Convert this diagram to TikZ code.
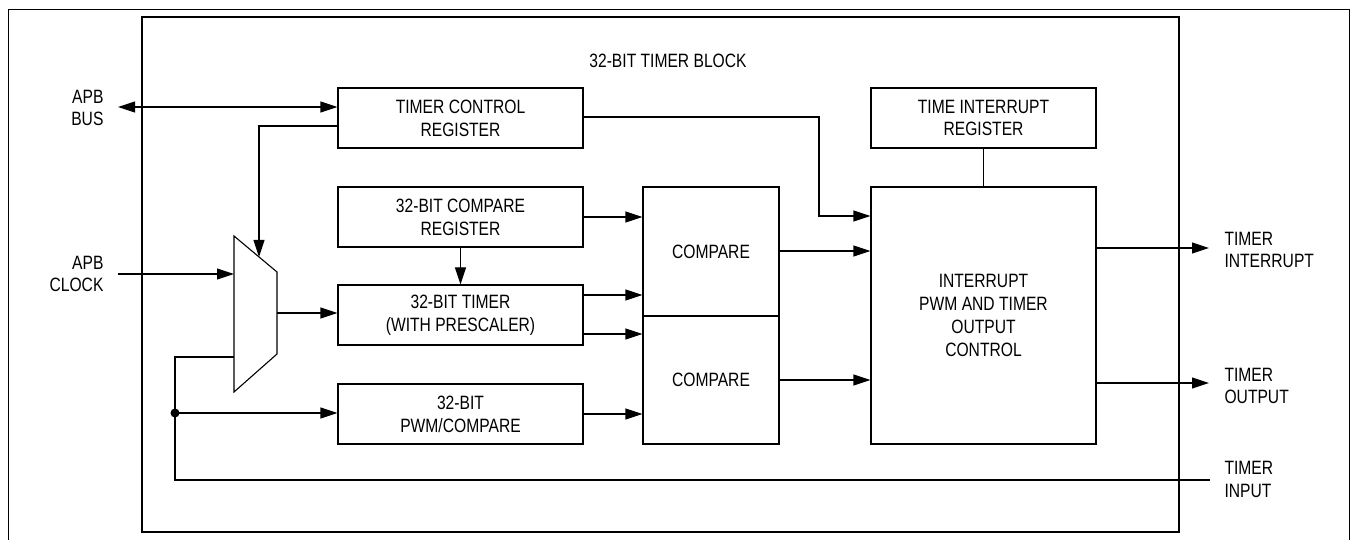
\documentclass[tikz,border=0pt]{standalone}
\usepackage{fontspec}
\setmainfont{Liberation Sans}[FakeStretch=0.81]
\usetikzlibrary{arrows.meta}
\begin{document}
\begin{tikzpicture}[x=1pt,y=-1pt,line width=1.1pt,
  every node/.style={font=\fontsize{19.3}{22.8}\selectfont},
  blk/.style={draw,rectangle,inner sep=0pt,align=center},
  lbl/.style={inner sep=0pt,align=left},
  arr/.style={-{Triangle[length=17pt,width=11pt]}},
  darr/.style={{Triangle[length=17pt,width=11pt]}-{Triangle[length=17pt,width=11pt]}}]
\useasboundingbox (0,0) rectangle (1353,540);
% frames
\draw[line width=1pt] (8,540) -- (8,10) -- (1349,10) -- (1349,540);
\draw[line width=1.1pt] (142,17) rectangle (1179,532);
\node (title) at (668,61) {32-BIT TIMER BLOCK};
% blocks
\node[blk,minimum width=245pt,minimum height=60pt] (tcr) at (460.5,118) {TIMER CONTROL\\REGISTER};
\node[blk,minimum width=245pt,minimum height=60pt] (cmpreg) at (460.5,217) {32-BIT COMPARE\\REGISTER};
\node[blk,minimum width=245pt,minimum height=60pt] (tmr) at (460.5,315) {32-BIT TIMER\\(WITH PRESCALER)};
\node[blk,minimum width=245pt,minimum height=60pt] (pwm) at (460.5,414) {32-BIT\\PWM/COMPARE};
\node[blk,minimum width=136pt,minimum height=129pt] (cmpA) at (711,251.5) {COMPARE};
\node[blk,minimum width=136pt,minimum height=128pt] (cmpB) at (711,380) {COMPARE};
\node[blk,minimum width=225pt,minimum height=257pt] (ictl) at (983.5,315.5) {INTERRUPT\\PWM AND TIMER\\OUTPUT\\CONTROL};
\node[blk,minimum width=225pt,minimum height=60pt] (tir) at (983.5,118) {TIME INTERRUPT\\REGISTER};
% mux
\draw (234,236) -- (277,272) -- (277,354) -- (234,392) -- cycle;
\coordinate (muxin) at (234,274);
\coordinate (muxout) at (277,313);
\coordinate (muxsel) at (234,357);
\coordinate (muxtop) at (259,257);
% external labels
\node[lbl,align=right,anchor=east] (apbbus) at (104,108) {APB\\BUS};
\node[lbl,align=right,anchor=east] (apbclk) at (104,274) {APB\\CLOCK};
\node[lbl,anchor=west] (tint) at (1224,250) {TIMER\\INTERRUPT};
\node[lbl,anchor=west] (tout) at (1224,386) {TIMER\\OUTPUT};
\node[lbl,anchor=west] (tin) at (1224,479.5) {TIMER\\INPUT};
\coordinate (busend) at (118,107);
\coordinate (clkend) at (118,274);
\coordinate (tintend) at (1209,248);
\coordinate (toutend) at (1209,383);
\coordinate (tinend) at (1210,480);
\coordinate (dot) at (175,413);
\coordinate (ctrlbend) at (819,216);
% connectors
\draw[darr] (busend) -- ([yshift=11pt]tcr.west);
\draw[arr] ([yshift=-8pt]tcr.west) -| (muxtop);
\draw[arr] (clkend) -- (muxin);
\draw[arr] (muxout) -- (muxout -| tmr.west);
\draw[arr] (cmpreg.south) -- (tmr.north);
\draw[arr] (cmpreg.east) -- (cmpreg.east -| cmpA.west);
\draw[arr] ([yshift=20pt]tmr.east) -- ([yshift=20pt]tmr.east -| cmpA.west);
\draw[arr] ([yshift=-19pt]tmr.east) -- ([yshift=-19pt]tmr.east -| cmpB.west);
\draw[arr] (pwm.east) -- (pwm.east -| cmpB.west);
\draw[arr] ([yshift=0.5pt]cmpA.east) -- ([yshift=0.5pt]cmpA.east -| ictl.west);
\draw[arr] (cmpB.east) -- (cmpB.east -| ictl.west);
\draw[arr] ([yshift=1pt]tcr.east) -| (ctrlbend) -- (ctrlbend -| ictl.west);
\draw (tir.south) -- (tir.south |- ictl.north);
\draw[arr] (ictl.east |- tintend) -- (tintend);
\draw[arr] (ictl.east |- toutend) -- (toutend);
\draw (muxsel) -| (dot) |- (tinend);
\draw[arr] (dot) -- (dot -| pwm.west);
\fill (dot) circle (4.5pt);
\end{tikzpicture}
\end{document}
